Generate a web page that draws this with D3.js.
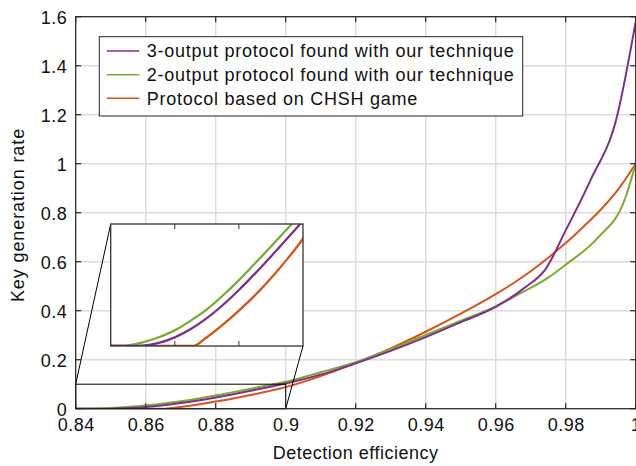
<!DOCTYPE html>
<html>
<head>
<meta charset="utf-8">
<script src="https://cdn.jsdelivr.net/npm/d3@7"></script>
<style>
  html, body { margin: 0; padding: 0; background: #fff; }
  svg { display: block; }
  text { font-family: "Liberation Sans", Arial, Helvetica, sans-serif; fill: #111; }
</style>
</head>
<body>
<svg id="chart" width="636" height="466"></svg>
<script>
// ---------- data ----------
const seriesNames = [
  "3-output protocol found with our technique",
  "2-output protocol found with our technique",
  "Protocol based on CHSH game"
];
const seriesColors = ["#7E2F8E", "#77AC30", "#D95319"];

const purpleX = [0.84, 0.848, 0.85, 0.855, 0.86, 0.865, 0.87, 0.875, 0.88, 0.885, 0.89, 0.895, 0.9, 0.91, 0.92, 0.93, 0.94, 0.95, 0.96, 0.968, 0.9744, 0.98, 0.987, 0.9946, 1.0];
const purpleY = [0, 0, 0.0002, 0.0025, 0.0071, 0.0139, 0.0228, 0.0336, 0.0459, 0.0593, 0.0734, 0.0879, 0.1027, 0.139, 0.185, 0.236, 0.292, 0.353, 0.416, 0.491, 0.573, 0.728, 0.93, 1.19, 1.58];

const greenX = [0.84, 0.844, 0.845, 0.85, 0.855, 0.86, 0.865, 0.87, 0.875, 0.88, 0.885, 0.89, 0.895, 0.9, 0.91, 0.92, 0.93, 0.94, 0.95, 0.96, 0.968, 0.975, 0.98, 0.989, 0.997, 1.0];
const greenY = [0, 0, 0.0003, 0.0030, 0.0072, 0.0128, 0.0208, 0.0300, 0.0414, 0.0540, 0.0676, 0.0815, 0.0957, 0.110, 0.149, 0.19, 0.243, 0.301, 0.359, 0.418, 0.478, 0.535, 0.588, 0.695, 0.859, 1.0];

const orangeX = [0.84, 0.8657, 0.87, 0.875, 0.88, 0.885, 0.89, 0.895, 0.9, 0.91, 0.92, 0.93, 0.94, 0.95, 0.96, 0.965, 0.97, 0.975, 0.98, 0.985, 0.99, 0.995, 1.0];
const orangeY = [0, 0, 0.0072, 0.0175, 0.0290, 0.0415, 0.0555, 0.0710, 0.0880, 0.133, 0.186, 0.246, 0.314, 0.388, 0.468, 0.512, 0.561, 0.616, 0.676, 0.742, 0.812, 0.895, 1.0];

const xTicks = [0.84, 0.86, 0.88, 0.9, 0.92, 0.94, 0.96, 0.98, 1];
const yTicks = [0, 0.2, 0.4, 0.6, 0.8, 1, 1.2, 1.4, 1.6];
const insetXTicks = [0.86, 0.88];
const xDomain = [0.84, 1];
const yDomain = [0, 1.6];
const zoomXDomain = [0.84, 0.9];
const zoomYDomain = [0, 0.1];
const xLabel = "Detection efficiency";
const yLabel = "Key generation rate";

// ---------- layout ----------
const L = 75.7, R = 635.7, T = 16.7, B = 408.7;
const insetBox = { x0: 110.7, x1: 303, y0: 224, y1: 346 };
const FS = 18;

const svg = d3.select("#chart");
const x = d3.scaleLinear().domain(xDomain).range([L, R]);
const y = d3.scaleLinear().domain(yDomain).range([B, T]);
const fmt = d3.format("~g");

const series = [
  { xs: purpleX, ys: purpleY },
  { xs: greenX, ys: greenY },
  { xs: orangeX, ys: orangeY }
].map((s, i) => ({ name: seriesNames[i], color: seriesColors[i], pts: s.xs.map((v, j) => [v, s.ys[j]]) }));

const defs = svg.append("defs");
defs.append("clipPath").attr("id", "clipMain")
  .append("rect").attr("x", L).attr("y", T - 2).attr("width", R - L).attr("height", B - T + 2);
defs.append("clipPath").attr("id", "clipInset")
  .append("rect").attr("x", insetBox.x0).attr("y", insetBox.y0)
  .attr("width", insetBox.x1 - insetBox.x0).attr("height", insetBox.y1 - insetBox.y0);

// grid
const grid = svg.append("g");
grid.selectAll("line.gx").data(xTicks).join("line")
  .attr("x1", d => x(d)).attr("x2", d => x(d)).attr("y1", T).attr("y2", B)
  .attr("stroke", "#dcdcdc").attr("stroke-width", 1.5);
grid.selectAll("line.gy").data(yTicks).join("line")
  .attr("x1", L).attr("x2", R).attr("y1", d => y(d)).attr("y2", d => y(d))
  .attr("stroke", "#dcdcdc").attr("stroke-width", 1.5);

// curves
const line = d3.line().x(d => x(d[0])).y(d => y(d[1])).curve(d3.curveMonotoneX);
const lines = svg.append("g").attr("clip-path", "url(#clipMain)");
lines.selectAll("path").data(series.slice().reverse()).join("path")
  .attr("d", d => line(d.pts)).attr("fill", "none")
  .attr("stroke", d => d.color).attr("stroke-width", 2);

// zoom rectangle and connectors
const zr = svg.append("g").attr("stroke", "#000").attr("stroke-width", 1).attr("fill", "none");
zr.append("rect")
  .attr("x", x(zoomXDomain[0])).attr("y", y(zoomYDomain[1]))
  .attr("width", x(zoomXDomain[1]) - x(zoomXDomain[0]))
  .attr("height", y(zoomYDomain[0]) - y(zoomYDomain[1]));
zr.append("line").attr("x1", x(zoomXDomain[0])).attr("y1", y(zoomYDomain[1]))
  .attr("x2", insetBox.x0).attr("y2", insetBox.y0);
zr.append("line").attr("x1", x(zoomXDomain[1])).attr("y1", y(zoomYDomain[0]))
  .attr("x2", insetBox.x1).attr("y2", insetBox.y1);

// inset
const xi = d3.scaleLinear().domain(zoomXDomain).range([insetBox.x0, insetBox.x1]);
const yi = d3.scaleLinear().domain(zoomYDomain).range([insetBox.y1, insetBox.y0]);
const inset = svg.append("g");
inset.append("rect").attr("x", insetBox.x0).attr("y", insetBox.y0)
  .attr("width", insetBox.x1 - insetBox.x0).attr("height", insetBox.y1 - insetBox.y0)
  .attr("fill", "#fff");
const lineI = d3.line().x(d => xi(d[0])).y(d => yi(d[1])).curve(d3.curveMonotoneX);
inset.append("g").attr("clip-path", "url(#clipInset)")
  .selectAll("path").data(series.slice().reverse()).join("path")
  .attr("d", d => lineI(d.pts)).attr("fill", "none")
  .attr("stroke", d => d.color).attr("stroke-width", 2.3);
inset.selectAll("line.it").data(insetXTicks).join("line")
  .attr("x1", d => xi(d)).attr("x2", d => xi(d)).attr("y1", insetBox.y0).attr("y2", insetBox.y0 + 5)
  .attr("stroke", "#333").attr("stroke-width", 1);
inset.selectAll("line.ib").data(insetXTicks).join("line")
  .attr("x1", d => xi(d)).attr("x2", d => xi(d)).attr("y1", insetBox.y1).attr("y2", insetBox.y1 - 5)
  .attr("stroke", "#333").attr("stroke-width", 1);
inset.append("rect").attr("x", insetBox.x0).attr("y", insetBox.y0)
  .attr("width", insetBox.x1 - insetBox.x0).attr("height", insetBox.y1 - insetBox.y0)
  .attr("fill", "none").attr("stroke", "#333").attr("stroke-width", 1.3);

// axes box + inward ticks
const ax = svg.append("g").attr("stroke", "#262626").attr("stroke-width", 1.2);
ax.append("rect").attr("x", L).attr("y", T).attr("width", R - L).attr("height", B - T).attr("fill", "none");
xTicks.forEach(v => {
  ax.append("line").attr("x1", x(v)).attr("x2", x(v)).attr("y1", B).attr("y2", B - 5.5);
  ax.append("line").attr("x1", x(v)).attr("x2", x(v)).attr("y1", T).attr("y2", T + 5.5);
});
yTicks.forEach(v => {
  ax.append("line").attr("x1", L).attr("x2", L + 5.5).attr("y1", y(v)).attr("y2", y(v));
  ax.append("line").attr("x1", R).attr("x2", R - 5.5).attr("y1", y(v)).attr("y2", y(v));
});

// tick labels via d3 axes (labels only)
const xAxis = svg.append("g").attr("transform", `translate(0,${B})`)
  .call(d3.axisBottom(x).tickValues(xTicks).tickFormat(fmt).tickSize(0).tickPadding(0));
xAxis.select(".domain").remove();
xAxis.selectAll("text").attr("y", 22.3).attr("dy", null)
  .style("font-size", FS + "px").style("letter-spacing", "0.5px").attr("fill", "#111");

const yAxis = svg.append("g").attr("transform", `translate(${L},0)`)
  .call(d3.axisLeft(y).tickValues(yTicks).tickFormat(fmt).tickSize(0).tickPadding(0));
yAxis.select(".domain").remove();
yAxis.selectAll("text").attr("x", -8.5).attr("dy", "0.36em")
  .style("font-size", FS + "px").style("letter-spacing", "0.5px").attr("fill", "#111");

// axis titles
svg.append("text").attr("x", (L + R) / 2).attr("y", 458.5).attr("text-anchor", "middle")
  .style("font-size", FS + "px").style("letter-spacing", "0.5px").text(xLabel);
svg.append("text").attr("transform", `translate(24,215) rotate(-90)`).attr("text-anchor", "middle")
  .style("font-size", FS + "px").style("letter-spacing", "0.9px").text(yLabel);

// legend
const lg = svg.append("g");
lg.append("rect").attr("x", 99.3).attr("y", 36.7).attr("width", 522.7 - 99.3).attr("height", 116 - 36.7)
  .attr("fill", "#fff").attr("stroke", "#262626").attr("stroke-width", 1);
const rowBase = [57.3, 81, 104.6];
series.forEach((s, i) => {
  lg.append("line").attr("x1", 106.7).attr("x2", 139.3)
    .attr("y1", rowBase[i] - 6.3).attr("y2", rowBase[i] - 6.3)
    .attr("stroke", s.color).attr("stroke-width", 1.6);
  lg.append("text").attr("x", 146.7).attr("y", rowBase[i])
    .style("font-size", FS + "px").style("letter-spacing", "0.75px").text(s.name);
});
</script>
</body>
</html>
